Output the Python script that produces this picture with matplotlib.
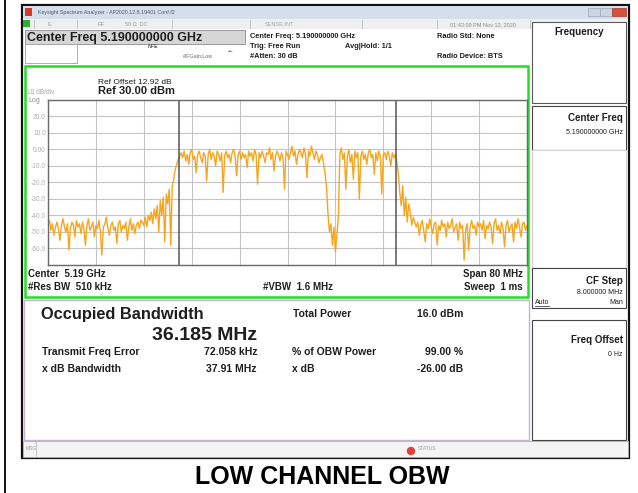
### Spectrum analyzer screenshot - Occupied Bandwidth (low channel) ###

import numpy as np
import matplotlib
matplotlib.use('Agg')
import matplotlib.pyplot as plt
from matplotlib.patches import Rectangle, Circle

plt.rcParams['font.family'] = ['Liberation Sans', 'DejaVu Sans']

# data #
# trace level (dBm), 0.25 MHz steps from 5150 to 5230 MHz
noise_low = [-46, -43, -49, -45, -52, -47, -44, -48, -55, -46,
             -42, -47, -50, -45, -61, -48, -44, -46, -53, -43,
             -47, -45, -51, -44, -48, -58, -46, -42, -49, -47,
             -44, -53, -46, -48, -43, -50, -64, -47, -45, -41,
             -48, -52, -46, -44, -49, -47, -57, -45, -43, -50,
             -46, -48, -44, -55, -47, -42, -49, -45, -51, -46,
             -44, -48, -43]
rise = [-44, -46, -41, -47, -40, -43, -38, -45, -36, -42,
        -34, -50, -31, -40, -29, -56, -27, -33, -24, -58, -22]
step = [-18, -12, -9, -6, -4]
band_1 = [-2, -5, -1, -7, -3, -9, -2, 0, -6, -4,
          -14, -3, -1, -5, -8, -2, -4, -19, -3, 0,
          -6, -2, -4, -10, -1, -3, -7, -2, -26, -4,
          -1, -5, -3, -8, -2, 0, -4, -16, -3, -1,
          -6, -2, -5, -3, -11, -1, -4, -2, -7, 0,
          -3, -21, -2, -5, -1, -4, -8, -2, -3, 1,
          -6, -2, -13, -4, -1, -3, -7, -2, -5, -24,
          -1, -3, -6, -2, 2, -4, -1, -9, -3, 0,
          -2, -5, 1, -3, -17, -1, -4, 2, -2, -6,
          -1, -3, -8, -5, -3, -8, -14, -22]
notch = [-38, -50, -45, -58, -47, -62, -52, -40]
band_2 = [-3, 1, -6, -2, -24, -4, 0, -8, -3, -18,
          -1, -5, -2, -30, -4, -1, -6, -3, -9, -2,
          0, -5, -3, -15, -2, -7, -1, -4, -27, -3,
          -2, -6, -1, -4, -10, -2, -5, -3, -7]
fall = [-14, -26, -34, -22, -40, -29, -44, -33, -38, -46, -41, -44]
noise_high = [-47, -44, -52, -46, -43, -49, -56, -45, -48, -42,
              -47, -51, -45, -44, -58, -46, -49, -43, -47, -45,
              -53, -44, -48, -46, -42, -50, -47, -45, -55, -44,
              -48, -46, -67, -49, -45, -61, -47, -43, -48, -46,
              -52, -44, -47, -45, -49, -43, -54, -46, -48, -44,
              -47, -57, -45, -42, -49, -46, -51, -44, -48, -59,
              -46, -43, -50, -47, -45, -56, -44, -48, -42, -47,
              -53, -45, -44, -49, -46]

trace_dbm = noise_low + rise + step + band_1 + notch + band_2 + fall + noise_high
f_start, f_stop = 5150.0, 5230.0   # MHz
center_mhz = 5190.0
obw_mhz = 36.185
ref_level = 30
db_per_div = 10
ytick_text = ['', '20.0', '10.0', '0.00', '-10.0', '-20.0', '-30.0',
              '-40.0', '-50.0', '-60.0', '']

freq = np.linspace(f_start, f_stop, len(trace_dbm))

# 화면 전체를 픽셀 좌표로 쓰는 배경 축
W, H = 638, 493
fig = plt.figure(figsize=(W / 100, H / 100), dpi=100)
bg = fig.add_axes([0, 0, 1, 1])
bg.set_xlim(0, W)
bg.set_ylim(H, 0)
bg.axis('off')


def box(x0, y0, x1, y1, fc='none', ec='#000000', lw=0.8, z=1):
    bg.add_patch(Rectangle((x0, y0), x1 - x0, y1 - y0, fc=fc, ec=ec, lw=lw, zorder=z))


def txt(x, y, s, size=7.5, weight='bold', color='#1e1e1e', ha='left', **kw):
    bg.text(x, y, s, fontsize=size, fontweight=weight, color=color,
            ha=ha, va='center', zorder=5, **kw)


# outer table line + screenshot frame
bg.plot([5, 5], [0, H], color='black', lw=1.3)
box(22, 5, 629, 458, fc='white', ec='#111111', lw=1.6)

# window title bar
box(23, 6, 628, 19, fc='#d4dfec', ec='none')
box(25, 8, 32, 16, fc='#d83a2a', ec='none', z=2)
txt(38, 12.5, 'Keysight Spectrum Analyzer - AP2020.12.8.19401 Conf.f2',
    size=3.8, weight='normal', color='#4d5b70')
box(588, 8, 600, 16, fc='#c9d5e3', ec='#9aa8b8', lw=0.5, z=2)
box(600, 8, 612, 16, fc='#c9d5e3', ec='#9aa8b8', lw=0.5, z=2)
box(612, 8, 626, 16, fc='#d9503a', ec='#a33a2a', lw=0.5, z=2)

# status row
box(23, 19, 628, 29, fc='#efefef', ec='none')
for sx in [34, 77, 172, 250, 362, 437, 530]:
    bg.plot([sx, sx], [20, 28], color='#bdbdbd', lw=0.6)
box(23, 20, 30, 27, fc='#2fae2f', ec='none', z=2)
txt(48, 24, 'E', size=4, weight='normal', color='#9a9a9a')
txt(97, 24, 'RF', size=4, weight='normal', color='#9a9a9a')
txt(125, 24, '50 Ω  DC', size=4, weight='normal', color='#9a9a9a')
txt(265, 24, 'SENSE:INT', size=4, weight='normal', color='#a8a8a8')
txt(483, 24.5, '01:42:09 PM Nov 12, 2020', size=4, weight='normal',
    color='#8a8a8a', ha='center')

# center freq header
box(25, 30, 245, 44, fc='#d6d6d6', ec='#8c8c8c', lw=0.6)
txt(27, 37.5, 'Center Freq 5.190000000 GHz', size=9)
box(25, 44, 77, 63, fc='white', ec='#a0a0a0', lw=0.6)
txt(148, 46, 'NFE', size=3.8, color='#555555')
txt(183, 57, '#IFGain:Low', size=3.8, weight='normal', color='#666666')
txt(228, 51, '-•-', size=4, color='#555555')
txt(250, 37, 'Center Freq: 5.190000000 GHz', size=5.3)
txt(250, 47, 'Trig: Free Run', size=5.3)
txt(250, 57, '#Atten: 30 dB', size=5.3)
txt(345, 47, 'Avg|Hold: 1/1', size=5.3)
txt(437, 36, 'Radio Std: None', size=5.3)
txt(437, 57, 'Radio Device: BTS', size=5.3)

# green trace window
box(25, 66, 528, 297, fc='white', ec='#25dd25', lw=1.8, z=2)
txt(98, 82, 'Ref Offset 12.92 dB', size=6, weight='normal')
txt(98, 91, 'Ref 30.00 dBm', size=8)
txt(27, 93, '10 dB/div', size=4.8, weight='normal', color='#a8a8a8')
txt(28, 101, 'Log', size=5, weight='normal', color='#8a8a8a')

# 스펙트럼 트레이스
ax = fig.add_axes([48 / W, 1 - 265 / H, 479 / W, 165 / H], zorder=3)
ax.plot(freq, trace_dbm, color='#f7a51f', lw=1.0)
ax.set_xlim(f_start, f_stop)
ax.set_ylim(ref_level - 10 * db_per_div, ref_level)
ax.set_xticks(np.arange(f_start, f_stop + 1, (f_stop - f_start) / 10))
ax.set_yticks(np.arange(ref_level - 10 * db_per_div, ref_level + 1, db_per_div)[::-1])
ax.set_yticklabels(ytick_text)
ax.grid(True, color='#c4c4c4', lw=0.8)
ax.set_axisbelow(True)
ax.tick_params(length=0, labelbottom=False, labelsize=4.8,
               labelcolor='#b0b0b0', pad=1.5)
for s in ax.spines.values():
    s.set_color('#6a6a6a')
    s.set_linewidth(1.0)
ax.axvline(center_mhz - obw_mhz / 2, color='#555555', lw=1.1)
ax.axvline(center_mhz + obw_mhz / 2, color='#555555', lw=1.1)

txt(28, 274, 'Center  5.19 GHz', size=7)
txt(28, 287, '#Res BW  510 kHz', size=7)
txt(263, 287, '#VBW  1.6 MHz', size=7)
txt(523, 274, 'Span 80 MHz', size=7, ha='right')
txt(523, 287, 'Sweep  1 ms', size=7, ha='right')

# measurement results
box(24, 300, 529, 440, fc='white', ec='#c2b6ce', lw=1.0)
txt(41, 315, 'Occupied Bandwidth', size=11.8)
txt(257, 335, '36.185 MHz', size=14, ha='right')
txt(293, 314, 'Total Power', size=7.5)
txt(463, 314, '16.0 dBm', size=7.5, ha='right')
txt(42, 352, 'Transmit Freq Error', size=7.5)
txt(257, 352, '72.058 kHz', size=7.5, ha='right')
txt(292, 352, '% of OBW Power', size=7.5)
txt(463, 352, '99.00 %', size=7.5, ha='right')
txt(42, 369, 'x dB Bandwidth', size=7.5)
txt(257, 369, '37.91 MHz', size=7.5, ha='right')
txt(292, 369, 'x dB', size=7.5)
txt(463, 369, '-26.00 dB', size=7.5, ha='right')

# status bar
box(23, 441, 628, 457, fc='#f4f4f4', ec='#b0b0b0', lw=0.6)
bg.plot([36, 36], [442, 456], color='#c0c0c0', lw=0.6)
txt(26, 449, 'MSG', size=3.5, weight='normal', color='#9a9a9a')
bg.add_patch(Circle((411, 451), 3.5, color='#e04040', zorder=4))
txt(418, 449, 'STATUS', size=3.5, weight='normal', color='#9a9a9a')

# softkey panel
box(532, 22, 626, 103, fc='white', ec='#5a5a5a')
txt(579, 32, 'Frequency', size=7, ha='center')
box(532, 106, 626, 150, fc='white', ec='#444444')
txt(623, 118, 'Center Freq', size=7, ha='right')
txt(623, 133, '5.190000000 GHz', size=5, weight='normal', ha='right')
box(532, 150, 626, 268, fc='white', ec='#d0d0d0')
box(532, 268, 626, 308, fc='white', ec='#444444')
txt(623, 281, 'CF Step', size=7, ha='right')
txt(623, 293, '8.000000 MHz', size=5, weight='normal', ha='right')
txt(535, 303, 'Auto', size=5, weight='normal')
bg.plot([535, 549], [306, 306], color='#1e1e1e', lw=0.5)
txt(623, 303, 'Man', size=5, weight='normal', ha='right')
box(532, 320, 626, 440, fc='white', ec='#444444')
txt(623, 340, 'Freq Offset', size=7, ha='right')
txt(623, 355, '0 Hz', size=5, weight='normal', ha='right')

# 캡션
bg.text(322, 477, 'LOW CHANNEL OBW', ha='center', va='center', fontsize=18,
        fontweight='bold', family=['Liberation Sans Narrow', 'Liberation Sans'])

plt.savefig('out.png', dpi=100)
